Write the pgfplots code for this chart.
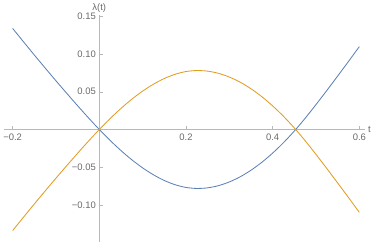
\documentclass[border=0pt]{standalone}
\usepackage{pgfplots}
\pgfplotsset{compat=1.18}
\usepackage{fontspec}
\setmainfont{Liberation Sans}
\definecolor{mblue}{rgb}{0.368417,0.506779,0.709798}
\definecolor{morange}{rgb}{0.880722,0.611041,0.142051}
\definecolor{axgray}{gray}{0.72}
\definecolor{lblgray}{gray}{0.42}
\pgfplotstableread{
t lam
-0.2 0.1338
-0.175 0.1161
-0.15 0.0986
-0.125 0.0814
-0.1 0.0644
-0.075 0.0478
-0.05 0.0314
-0.025 0.0154
0 0
0.025 -0.0145
0.05 -0.0279
0.075 -0.0401
0.1 -0.0508
0.125 -0.0600
0.15 -0.0675
0.175 -0.0731
0.2 -0.0767
0.225 -0.0780
0.25 -0.0772
0.275 -0.0743
0.3 -0.0694
0.325 -0.0626
0.35 -0.0539
0.375 -0.0434
0.4 -0.0312
0.425 -0.0174
0.45 -0.0020
0.475 0.0149
0.5 0.0330
0.525 0.0517
0.55 0.0708
0.575 0.0901
0.6 0.1097
}\bluedata
\pgfplotstableread{
t lam
-0.2 -0.1338
-0.175 -0.1161
-0.15 -0.0986
-0.125 -0.0814
-0.1 -0.0644
-0.075 -0.0478
-0.05 -0.0314
-0.025 -0.0154
0 0
0.025 0.0145
0.05 0.0279
0.075 0.0401
0.1 0.0508
0.125 0.0600
0.15 0.0675
0.175 0.0731
0.2 0.0767
0.225 0.0780
0.25 0.0772
0.275 0.0743
0.3 0.0694
0.325 0.0626
0.35 0.0539
0.375 0.0434
0.4 0.0312
0.425 0.0174
0.45 0.0020
0.475 -0.0149
0.5 -0.0330
0.525 -0.0517
0.55 -0.0708
0.575 -0.0901
0.6 -0.1097
}\orangedata
\begin{document}
\begin{tikzpicture}
\begin{axis}[
  scale only axis,
  width=361bp, height=228bp,
  axis lines=middle,
  axis line style={-, draw=axgray, line width=0.5pt},
  xmin=-0.219, xmax=0.612,
  ymin=-0.149, ymax=0.152,
  xtick={-0.2,0.2,0.4,0.6},
  xticklabels={−0.2,0.2,0.4,0.6},
  ytick={-0.10,-0.05,0.05,0.10,0.15},
  yticklabels={−0.10,−0.05,0.05,0.10,0.15},
  minor x tick num=3,
  minor y tick num=4,
  tick align=inside,
  major tick length=4bp,
  minor tick length=2.5bp,
  tick style={draw=axgray, line width=0.4pt},
  ticklabel style={font=\fontsize{9.5}{11}\selectfont, text=lblgray},
  xticklabel style={yshift=-1bp},
  xlabel={t}, ylabel={λ(t)},
  xlabel style={font=\fontsize{9.5}{11}\selectfont, text=lblgray, anchor=west, xshift=0bp},
  ylabel style={font=\fontsize{9.5}{11}\selectfont, text=lblgray, anchor=south, yshift=-1bp},
  clip=false,
]
\addplot[mblue, line width=0.85pt, smooth] table[x=t,y=lam] {\bluedata};
\addplot[morange, line width=0.85pt, smooth] table[x=t,y=lam] {\orangedata};
\end{axis}
\end{tikzpicture}
\end{document}
